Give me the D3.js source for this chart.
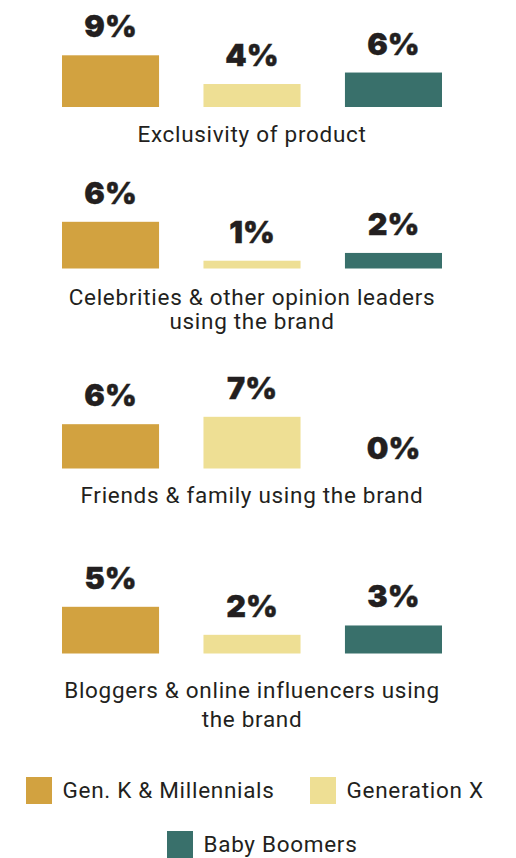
<!DOCTYPE html>
<html>
<head>
<meta charset="utf-8">
<script src="https://cdn.jsdelivr.net/npm/d3@7"></script>
<style>
  html, body { margin: 0; padding: 0; background: #ffffff; }
  svg { display: block; }
</style>
</head>
<body>
<svg id="chart" width="516" height="858"></svg>
<script>
// Reasons for choosing a brand, by generation
const categories = [
  "Exclusivity of product",
  "Celebrities & other opinion leaders using the brand",
  "Friends & family using the brand",
  "Bloggers & online influencers using the brand"
];
const seriesNames = ["Gen. K & Millennials", "Generation X", "Baby Boomers"];
const genKMillennials = [9, 6, 6, 5];
const generationX = [4, 1, 7, 2];
const babyBoomers = [6, 2, 0, 3];

const colors = ["#d2a240", "#eedf94", "#39706b"];
const textColor = "#231f20";

// Panel layout: bar baseline, tallest bar height, first label baseline, label line height
const panels = [
  { base: 107,   maxH: 51.7, labelY: 141.8, lineH: 24 },
  { base: 268.5, maxH: 46.7, labelY: 305,   lineH: 24.3 },
  { base: 468.5, maxH: 51.7, labelY: 502.8, lineH: 24 },
  { base: 653.5, maxH: 46.7, labelY: 698.3, lineH: 28.4 }
];

const svg = d3.select("#chart");
const values = [genKMillennials, generationX, babyBoomers];

const x = d3.scaleBand()
  .domain(seriesNames)
  .range([62, 442])
  .paddingInner(0.314)
  .paddingOuter(0);

categories.forEach((cat, i) => {
  const p = panels[i];
  const groupVals = values.map(v => v[i]);
  const h = d3.scaleLinear()
    .domain([0, d3.max(groupVals)])
    .range([0, p.maxH]);

  const g = svg.append("g");
  const rows = seriesNames.map((s, j) => ({ s, v: groupVals[j], c: colors[j] }));

  g.selectAll("rect")
    .data(rows.filter(d => d.v > 0))
    .join("rect")
    .attr("x", d => x(d.s))
    .attr("width", x.bandwidth())
    .attr("y", d => p.base - h(d.v))
    .attr("height", d => h(d.v))
    .attr("fill", d => d.c);

  // Heavy value labels above each bar
  g.selectAll("text.val")
    .data(rows)
    .join("text")
    .attr("class", "val")
    .attr("x", d => x(d.s) + x.bandwidth() / 2)
    .attr("y", d => p.base - h(d.v) - (d.v > 0 ? 18 : 9.5))
    .attr("text-anchor", "middle")
    .attr("font-family", "Inter, 'Open Sans', sans-serif")
    .attr("font-weight", 900)
    .attr("font-size", 30.5)
    .attr("fill", textColor)
    .attr("stroke", textColor)
    .attr("stroke-width", 0.4)
    .text(d => d.v + "%");

  // Category label, wrapped to fit the panel width
  const label = g.append("text")
    .attr("text-anchor", "middle")
    .attr("font-family", "Roboto, sans-serif")
    .attr("font-size", 22.5)
    .attr("letter-spacing", 0.7)
    .attr("fill", textColor);
  const words = cat.split(" ");
  const lines = [];
  let cur = [];
  const probe = label.append("tspan");
  words.forEach(w => {
    const test = cur.concat([w]).join(" ");
    probe.text(test);
    if (probe.node().getComputedTextLength() > 392 && cur.length) {
      lines.push(cur.join(" "));
      cur = [w];
    } else {
      cur.push(w);
    }
  });
  lines.push(cur.join(" "));
  probe.remove();
  lines.forEach((ln, k) => {
    label.append("tspan")
      .attr("x", 252)
      .attr("y", p.labelY + k * p.lineH)
      .text(ln);
  });
});

// Legend
const legendItems = [
  { x: 26,  y: 777, name: seriesNames[0], c: colors[0] },
  { x: 310, y: 777, name: seriesNames[1], c: colors[1] },
  { x: 167, y: 831, name: seriesNames[2], c: colors[2] }
];
const lg = svg.append("g")
  .selectAll("g")
  .data(legendItems)
  .join("g")
  .attr("transform", d => `translate(${d.x},${d.y})`);
lg.append("rect")
  .attr("width", 26)
  .attr("height", 27)
  .attr("fill", d => d.c);
lg.append("text")
  .attr("x", 36.5)
  .attr("y", 20.5)
  .attr("font-family", "Roboto, sans-serif")
  .attr("font-size", 22.5)
  .attr("letter-spacing", 0.7)
  .attr("fill", textColor)
  .text(d => d.name);
</script>
</body>
</html>
